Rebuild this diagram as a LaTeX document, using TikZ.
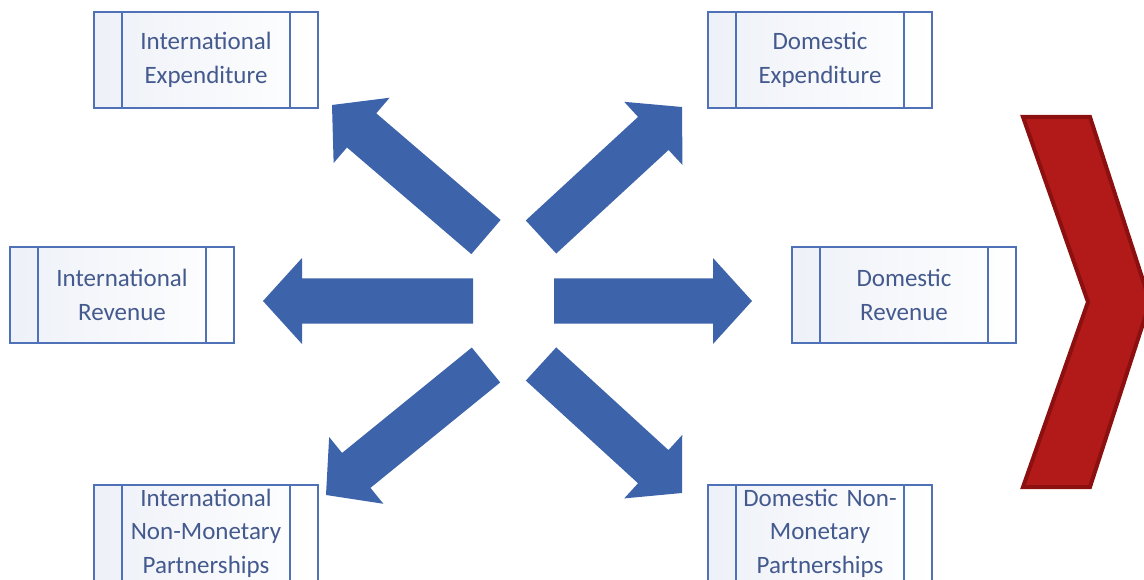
\documentclass[tikz,border=0pt]{standalone}
\usepackage{fontspec}
\setmainfont{Carlito}
\usetikzlibrary{calc}

\definecolor{boxblue}{RGB}{79,113,183}
\definecolor{textblue}{RGB}{68,90,142}
\definecolor{arrowblue}{RGB}{61,99,170}
\definecolor{chevronred}{RGB}{178,26,26}
\definecolor{chevronedge}{RGB}{140,16,16}

% block arrow from #1 to #2: shaft 45pt wide, head 86pt wide and 39pt long
\newcommand{\blockarrow}[2]{%
    \coordinate (hb) at ($(#2)!39pt!(#1)$);
    \fill[arrowblue] ($(#1)!22.5pt!90:(#2)$) -- ($(hb)!22.5pt!90:(#2)$)
        -- ($(hb)!43pt!90:(#2)$) -- (#2) -- ($(hb)!43pt!-90:(#2)$)
        -- ($(hb)!22.5pt!-90:(#2)$) -- ($(#1)!22.5pt!-90:(#2)$) -- cycle;
}

\begin{document}
\begin{tikzpicture}[
        x=1pt, y=-1pt,
        flowbox/.style={rectangle, draw=boxblue, line width=2pt,
            left color=boxblue!10, right color=white,
            minimum width=224pt, minimum height=96pt, inner sep=0pt,
            text width=168pt, align=center, text=textblue,
            font=\fontsize{25}{33.5}\selectfont,
            path picture={
                \draw[boxblue, line width=2pt]
                    ([xshift=28pt]path picture bounding box.north west) --
                    ([xshift=28pt]path picture bounding box.south west)
                    ([xshift=-28pt]path picture bounding box.north east) --
                    ([xshift=-28pt]path picture bounding box.south east);
            }},
        chevron/.style={fill=chevronred, draw=chevronedge, line width=4pt,
            line join=miter}
    ]

    \clip (0,0) rectangle (1144,580);

    % boxes
    \node[flowbox] (intexp) at (206,60) {International\\Expenditure};
    \node[flowbox] (domexp) at (820,60) {Domestic\\Expenditure};
    \node[flowbox] (intrev) at (122,295) {International\\Revenue};
    \node[flowbox] (domrev) at (904,295) {Domestic\\Revenue};
    \node[flowbox] (intnmp) at (206,533) {International\\Non-Monetary\\Partnerships};
    \node[flowbox] (domnmp) at (820,533) {Domestic Non-\\Monetary\\Partnerships};

    % arrow ends around the centre
    \coordinate (ul-tail) at (486,237);
    \coordinate (ul-tip) at (332,105);
    \coordinate (ur-tail) at (541,237);
    \coordinate (ur-tip) at (682,107);
    \coordinate (l-tail) at (473,301);
    \coordinate (l-tip) at (263,301);
    \coordinate (r-tail) at (554,301);
    \coordinate (r-tip) at (752,301);
    \coordinate (ll-tail) at (486,365);
    \coordinate (ll-tip) at (326,495);
    \coordinate (lr-tail) at (541,364);
    \coordinate (lr-tip) at (682,493);

    \foreach \a in {ul,ur,l,r,ll,lr} {
        \blockarrow{\a-tail}{\a-tip}
    }

    % chevron on the right
    \filldraw[chevron] (1023,117) -- (1090,117) -- (1150,302) -- (1090,487)
        -- (1023,487) -- (1088,302) -- cycle;
\end{tikzpicture}
\end{document}
